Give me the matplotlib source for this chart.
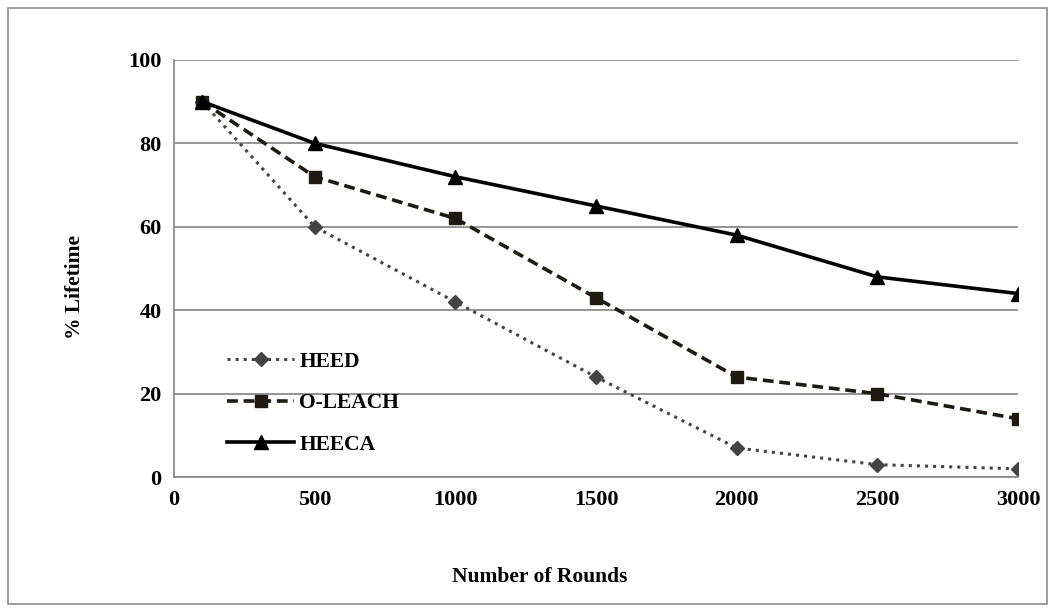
import matplotlib.pyplot as plt
from matplotlib.patches import Rectangle

# =========================
# data
# =========================
rounds = [100, 500, 1000, 1500, 2000, 2500, 3000]
heed = [90, 60, 42, 24, 7, 3, 2]
oleach = [90, 72, 62, 43, 24, 20, 14]
heeca = [90, 80, 72, 65, 58, 48, 44]

plt.rcParams['font.family'] = ['Liberation Serif', 'DejaVu Serif']
plt.rcParams['font.weight'] = 'bold'

fig = plt.figure(figsize=(10.55, 6.11), dpi=100)
ax = fig.add_axes([0.165, 0.219, 0.800, 0.683])

ax.plot(rounds, heed, linestyle=':', color='#444444', linewidth=2.2,
        marker='D', markersize=7, label='HEED')
ax.plot(rounds, oleach, linestyle='--', color='#1e1a12', linewidth=2.6,
        dashes=(3, 1.6), marker='s', markersize=9, label='O-LEACH')
ax.plot(rounds, heeca, linestyle='-', color='black', linewidth=2.6,
        marker='^', markersize=10, label='HEECA')

ax.set_xlim(0, 3000)
ax.set_ylim(0, 100)
ax.set_xticks([0, 500, 1000, 1500, 2000, 2500, 3000])
ax.set_yticks([0, 20, 40, 60, 80, 100])
ax.tick_params(length=0, labelsize=16, pad=9)
for lab in ax.get_xticklabels() + ax.get_yticklabels():
    lab.set_fontweight('bold')

ax.grid(axis='y', color='#8c8c8c', linewidth=1.3)
ax.set_axisbelow(True)
for s in ['top', 'right']:
    ax.spines[s].set_visible(False)
ax.spines['left'].set_color('#8c8c8c')
ax.spines['left'].set_linewidth(1.3)
ax.spines['bottom'].set_color('#8c8c8c')
ax.spines['bottom'].set_linewidth(1.3)

# axis titles sit a bit off-centre in the original
fig.text(0.512, 0.056, 'Number of Rounds', fontsize=15.5, fontweight='bold',
         ha='center', va='center')
fig.text(0.071, 0.530, '% Lifetime', fontsize=15.5, fontweight='bold',
         ha='center', va='center', rotation=90)

leg = ax.legend(loc='upper left', bbox_to_anchor=(0.04, 0.347), frameon=False,
                prop={'size': 15.5, 'weight': 'bold'}, handlelength=3.1,
                handletextpad=0.25, labelspacing=1.0)

fig.patches.append(Rectangle((0.008, 0.012), 0.984, 0.975, transform=fig.transFigure,
                             fill=False, edgecolor='#8c8c8c', linewidth=1.2))

plt.savefig('out.png', dpi=100)
